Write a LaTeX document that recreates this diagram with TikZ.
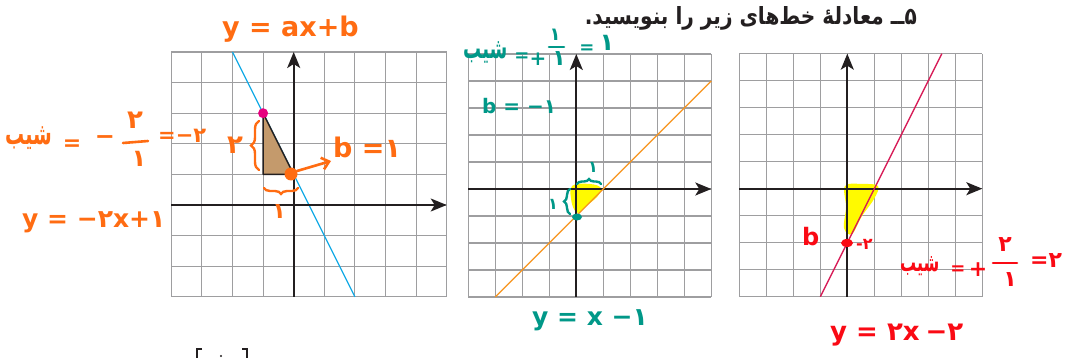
\documentclass[tikz,border=0pt]{standalone}
\usepackage{fontspec}
\usepackage{graphicx}
\setmainfont{DejaVu Sans}
\newfontfamily\fa[Script=Arabic]{DejaVu Sans}
\TeXXeTstate=1
\usetikzlibrary{arrows.meta,decorations.pathreplacing}
\definecolor{hwor}{RGB}{255,108,18}
\definecolor{hwteal}{RGB}{0,152,136}
\definecolor{hwred}{RGB}{250,10,20}
\definecolor{gridgray}{RGB}{158,158,160}
\definecolor{axisblack}{RGB}{35,31,32}
\definecolor{blueline}{RGB}{20,170,230}
\definecolor{orline}{RGB}{247,148,29}
\definecolor{crline}{RGB}{215,25,85}
\definecolor{brownfill}{RGB}{196,154,108}
\definecolor{pinkdot}{RGB}{230,0,126}
\definecolor{hlyellow}{RGB}{255,250,0}
\newcommand\hwf[1]{\bfseries\fontsize{#1}{#1}\selectfont}
\tikzset{
  gridl/.style={draw=gridgray, line width=1.1pt},
  axisl/.style={draw=axisblack, line width=1.8pt, -{Stealth[length=16pt,width=13pt,inset=4pt]}},
  hw/.style={inner sep=0pt, text=#1},
  hwstroke/.style={draw=#1, line width=2.6pt, line cap=round, line join=round},
  hwbrace/.style={decorate, decoration={brace, amplitude=#1}, line width=2.4pt, line cap=round},
  plotline/.style={draw=#1, line width=1.3pt},
}
\begin{document}
\begin{tikzpicture}[x=1pt,y=-1pt]
\useasboundingbox (0,0) rectangle (1071,358);
\fill[white] (0,0) rectangle (1071,358);

% title
\node[anchor=base east, inner sep=0pt, text=axisblack] (title) at (917,25)
  {\resizebox{332pt}{18pt}{\bfseries\fa\beginR ۵ــ معادلهٔ خط‌های زیر را بنویسید.\endR}};

% ================= grid 1 =================
\begin{scope}[shift={(293.7,205)}, x=30.6pt, y=30.6pt]
  \draw[gridl, step=1] (-4,-3) grid (5,5);
  \draw[plotline=blueline] (-2,5) -- (2,-3);
  \filldraw[fill=brownfill, draw=axisblack, line width=1.4pt, line join=round] (-1,3) -- (-1,1) -- (0,1) -- cycle;
  \draw[axisl] (-4,0) -- (5,0);
  \draw[axisl] (0,-3) -- (0,5);
  \fill[pinkdot] (-1,3) circle[radius=5pt];
\end{scope}
\fill[hwor] (291,174) circle[radius=6.5pt];
\coordinate (arA) at (297,171);
\coordinate (arB) at (331,161);
\draw[hwstroke=hwor, -{Straight Barb[length=7pt,width=12pt]}] (arA) -- (arB);

\node[hw=hwor, anchor=base west, font=\hwf{27}] (eqtop) at (222,37) {y = ax+b};
\node[hw=hwor, anchor=base west, font=\hwf{19}] (s1) at (5,145) {\scalebox{1}[1.6]{\fa\beginR شیب\endR}};
\node[hw=hwor, font=\hwf{22}] (s1eq) at (72,145) {=};
\node[hw=hwor, font=\hwf{24}] (s1minus) at (105,140) {−};
\node[hw=hwor, font=\hwf{26}] (s1num) at (135,120) {۲};
\coordinate (s1a) at (123,143);
\coordinate (s1b) at (148,141);
\draw[hwstroke=hwor] (s1a) -- (s1b);
\node[hw=hwor, font=\hwf{24}] (s1den) at (139,159) {۱};
\node[hw=hwor, anchor=base west, font=\hwf{21}] (s1res) at (158,143) {=−۲};
\node[hw=hwor, anchor=base west, font=\hwf{25}] (eq1) at (22,228) {\beginL y = −۲x+۱\endL};
\node[hw=hwor, font=\hwf{26}] (two1) at (235,145) {۲};
\coordinate (brA) at (259,170);
\coordinate (brB) at (259,121);
\draw[hwbrace=8pt, draw=hwor] (brA) -- (brB);
\coordinate (ubA) at (298,188);
\coordinate (ubB) at (264,188);
\draw[hwbrace=6pt, draw=hwor] (ubA) -- (ubB);
\node[hw=hwor, font=\hwf{22}] (one1) at (279,212) {۱};
\node[hw=hwor, anchor=base west, font=\hwf{27}] (b1) at (333,158) {\beginL b =۱\endL};

% ================= grid 2 =================
\begin{scope}[shift={(576.3,189)}, x=27pt, y=27pt]
  \draw[gridl, step=1] (-4,-4) grid (5,5);
\end{scope}
\fill[hlyellow] plot[smooth cycle, tension=0.6] coordinates {(572,186) (590,184) (601,188) (597,197) (586,206) (578,213) (572,204)};
\begin{scope}[shift={(576.3,189)}, x=27pt, y=27pt]
  \draw[axisl] (-4,0) -- (5,0);
  \draw[axisl] (0,-4) -- (0,5);
  \draw[plotline=orline] (-3,-4) -- (5,4);
\end{scope}
\fill[hwteal] (577,217) ellipse[x radius=5pt, y radius=3.5pt];
\node[hw=hwteal, anchor=base west, font=\hwf{18}] (s2) at (463,59) {\scalebox{1}[1.6]{\fa\beginR شیب\endR}};
\node[hw=hwteal, font=\hwf{18}] (s2eq) at (522,57) {=};
\node[hw=hwteal, font=\hwf{20}] (s2plus) at (538,59) {+};
\node[hw=hwteal, font=\hwf{18}] (s2num) at (555,35) {۱};
\coordinate (s2a) at (549,47);
\coordinate (s2b) at (564,47);
\draw[hwstroke=hwteal] (s2a) -- (s2b);
\node[hw=hwteal, font=\hwf{22}] (s2den) at (559,59) {۱};
\node[hw=hwteal, font=\hwf{18}] (s2eq2) at (587,49) {=};
\node[hw=hwteal, font=\hwf{24}] (s2res) at (607,43) {۱};
\node[hw=hwteal, anchor=base west, font=\hwf{20}] (b2) at (482,114) {\beginL b = −۱\endL};
\node[hw=hwteal, font=\hwf{16}] (one2a) at (593,167) {۱};
\coordinate (ob2A) at (577,184);
\coordinate (ob2B) at (601,184);
\draw[hwbrace=5pt, draw=hwteal] (ob2A) -- (ob2B);
\coordinate (lb2A) at (570,214);
\coordinate (lb2B) at (570,189);
\draw[hwbrace=6pt, draw=hwteal] (lb2A) -- (lb2B);
\node[hw=hwteal, font=\hwf{16}] (one2b) at (553,204) {۱};
\node[hw=hwteal, anchor=base west, font=\hwf{25}] (eq2) at (532,325) {\beginL y = x −۱\endL};

% ================= grid 3 =================
\begin{scope}[shift={(847.3,188.7)}, x=27pt, y=27pt]
  \draw[gridl, step=1] (-4,-4) grid (5,5);
\end{scope}
\fill[hlyellow] plot[smooth cycle, tension=0.6] coordinates {(845,186) (862,184) (878,186) (874,199) (862,216) (852,234) (844,228) (846,207)};
\begin{scope}[shift={(847.3,188.7)}, x=27pt, y=27pt]
  \draw[axisl] (-4,0) -- (5,0);
  \draw[axisl] (0,-4) -- (0,5);
  \draw[plotline=crline] (-1,-4) -- (3.5,5);
\end{scope}
\fill[hwred] (847,243) ellipse[x radius=6pt, y radius=4pt];
\node[hw=hwred, anchor=base west, font=\hwf{16}] (m2) at (856,250) {-۲};
\node[hw=hwred, anchor=base west, font=\hwf{24}] (b3) at (802,245) {b};
\node[hw=hwred, anchor=base west, font=\hwf{16}] (s3) at (900,272) {\scalebox{1}[1.6]{\fa\beginR شیب\endR}};
\node[hw=hwred, font=\hwf{18}] (s3eq) at (958,270) {=};
\node[hw=hwred, font=\hwf{22}] (s3plus) at (978,270) {+};
\node[hw=hwred, font=\hwf{22}] (s3num) at (1005,245) {۲};
\coordinate (s3a) at (993,263);
\coordinate (s3b) at (1017,263);
\draw[hwstroke=hwred] (s3a) -- (s3b);
\node[hw=hwred, font=\hwf{22}] (s3den) at (1010,280) {۱};
\node[hw=hwred, anchor=base west, font=\hwf{22}] (s3res) at (1030,268) {=۲};
\node[hw=hwred, anchor=base west, font=\hwf{26}] (eq3) at (830,340) {\beginL y = ۲x\kern6pt−۲\endL};

% cut-off bracket at bottom
\coordinate (bkL1) at (202,349);
\coordinate (bkL2) at (197,349);
\coordinate (bkL3) at (197,359);
\coordinate (bkR1) at (242,349);
\coordinate (bkR2) at (247,349);
\coordinate (bkR3) at (247,359);
\draw[axisblack, line width=1.2pt] (bkL1) -- (bkL2) -- (bkL3);
\draw[axisblack, line width=1.2pt] (bkR1) -- (bkR2) -- (bkR3);
\fill[axisblack] (221,356) circle[radius=1.2pt];
\end{tikzpicture}
\end{document}
